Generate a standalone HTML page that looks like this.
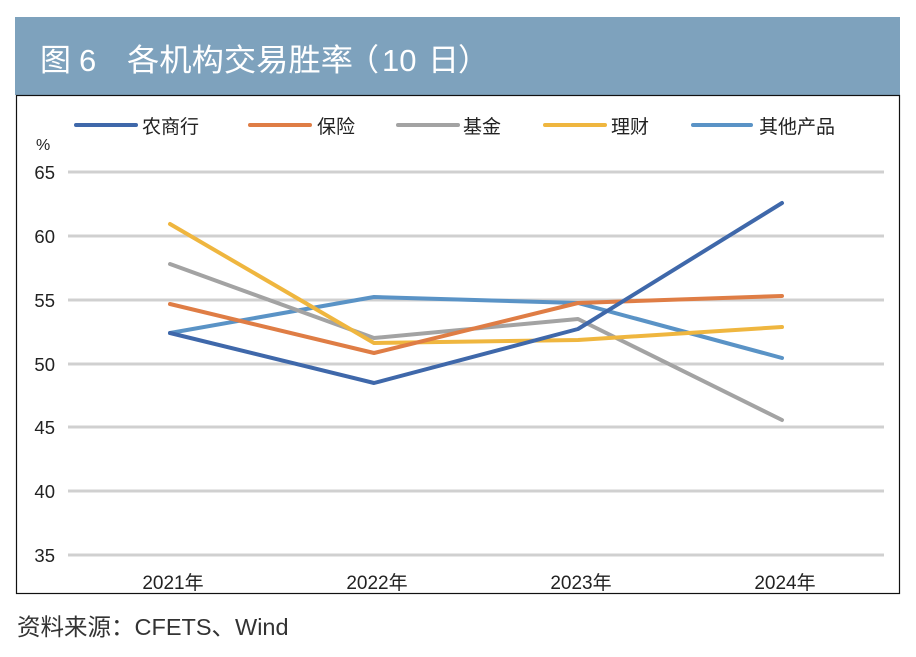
<!DOCTYPE html>
<html><head><meta charset="utf-8"><style>
html,body{margin:0;padding:0;background:#fff;}
svg{display:block;}
text{font-family:"Liberation Sans","Noto Sans CJK SC",sans-serif;}
</style></head><body>
<svg width="916" height="657" viewBox="0 0 916 657" xmlns="http://www.w3.org/2000/svg">
<rect x="0" y="0" width="916" height="657" fill="#fff"/>
<rect x="15" y="17" width="885" height="78" fill="#7ea2bd"/>
<g fill="#fff" font-size="31" font-family="'Liberation Sans','Noto Sans CJK SC',sans-serif">
<text x="40" y="71">图</text>
<text x="79" y="71">6</text>
<text x="127" y="71" textLength="226" lengthAdjust="spacingAndGlyphs">各机构交易胜率</text>
<text x="348" y="71">（</text>
<text x="382" y="71">10</text>
<text x="428" y="71">日</text>
<text x="458" y="71">）</text>
</g>
<rect x="16.5" y="95.5" width="883" height="498" fill="none" stroke="#111" stroke-width="1.2"/>
<g stroke="#d0d0d0" stroke-width="3">
<line x1="68" y1="172" x2="884" y2="172"/>
<line x1="68" y1="236" x2="884" y2="236"/>
<line x1="68" y1="300" x2="884" y2="300"/>
<line x1="68" y1="364" x2="884" y2="364"/>
<line x1="68" y1="427" x2="884" y2="427"/>
<line x1="68" y1="491" x2="884" y2="491"/>
<line x1="68" y1="555" x2="884" y2="555"/>
</g>
<g font-size="18.5" fill="#222" text-anchor="end">
<text x="55" y="179">65</text>
<text x="55" y="243">60</text>
<text x="55" y="307">55</text>
<text x="55" y="371">50</text>
<text x="55" y="434">45</text>
<text x="55" y="498">40</text>
<text x="55" y="562">35</text>
</g>
<text x="36" y="150" font-size="16" fill="#222">%</text>
<g font-size="19" fill="#222" text-anchor="middle">
<text x="173" y="589">2021年</text>
<text x="377" y="589">2022年</text>
<text x="581" y="589">2023年</text>
<text x="785" y="589">2024年</text>
</g>
<g fill="none" stroke-width="4" stroke-linejoin="round" stroke-linecap="round">
<polyline stroke="#5a93c6" points="170,333 374,297 578,303 782,358"/>
<polyline stroke="#a3a3a3" points="170,264 374,338 578,319 782,420"/>
<polyline stroke="#efb63f" points="170,224 374,343 578,340 782,327"/>
<polyline stroke="#df7d45" points="170,304 374,353 578,303 782,296"/>
<polyline stroke="#3f68aa" points="170,333 374,383 578,329 782,203"/>
</g>
<g stroke-width="4" stroke-linecap="round">
<line x1="76" y1="125" x2="136" y2="125" stroke="#3f68aa"/>
<line x1="250" y1="125" x2="310" y2="125" stroke="#df7d45"/>
<line x1="398" y1="125" x2="458" y2="125" stroke="#a3a3a3"/>
<line x1="545" y1="125" x2="605" y2="125" stroke="#efb63f"/>
<line x1="693" y1="125" x2="751" y2="125" stroke="#5a93c6"/>
</g>
<g font-size="19" fill="#222">
<text x="142" y="133">农商行</text>
<text x="317" y="133">保险</text>
<text x="463" y="133">基金</text>
<text x="611" y="133">理财</text>
<text x="759" y="133">其他产品</text>
</g>
<text x="17" y="635" font-size="23.5" fill="#333">资料来源：CFETS、Wind</text>
</svg>
</body></html>
